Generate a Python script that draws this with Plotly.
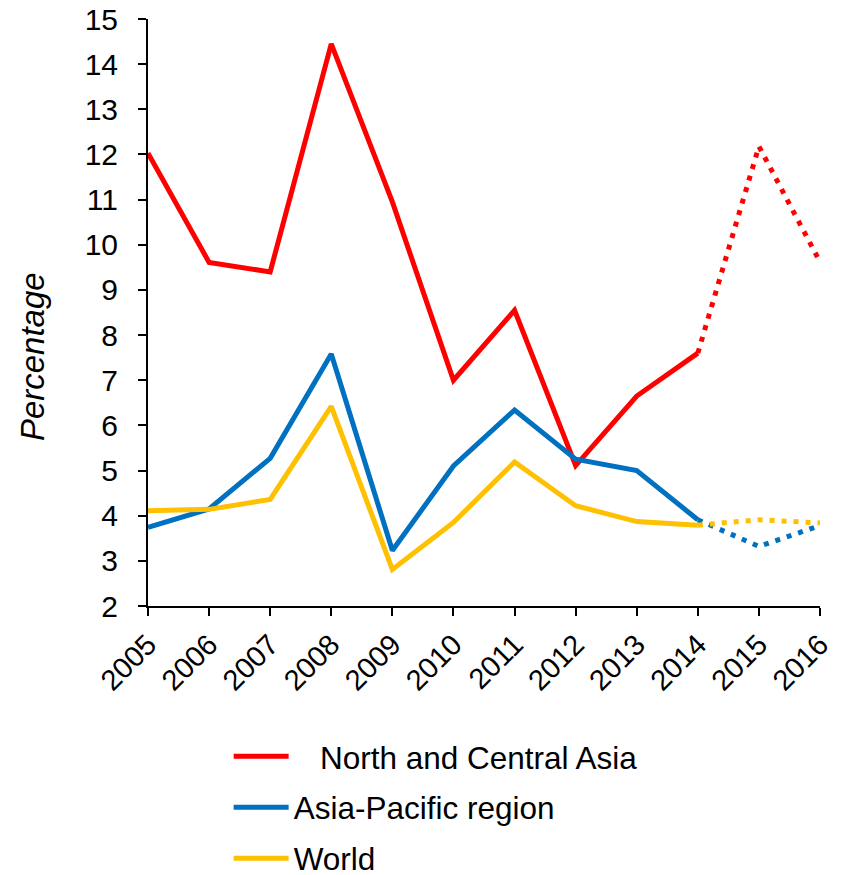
import plotly.graph_objects as go

years = [2005, 2006, 2007, 2008, 2009, 2010, 2011, 2012, 2013, 2014, 2015, 2016]
north_central_asia = [12.03, 9.61, 9.40, 14.45, 10.95, 7.00, 8.55, 5.11, 6.65, 7.60, 12.18, 9.62]
asia_pacific = [3.74, 4.15, 5.27, 7.58, 3.23, 5.10, 6.34, 5.25, 5.00, 3.91, 3.32, 3.78]
world = [4.11, 4.14, 4.36, 6.42, 2.81, 3.85, 5.19, 4.22, 3.87, 3.79, 3.91, 3.84]
n_actual = 10  # 2005-2014 actual, 2014-2016 projected (dotted)

series = [
    ("\u00a0\u00a0\u00a0North and Central Asia", north_central_asia, "#FF0000"),
    ("Asia-Pacific region", asia_pacific, "#0070C0"),
    ("World", world, "#FFC000"),
]

fig = go.Figure()
for i, (name, vals, color) in enumerate(series):
    fig.add_trace(go.Scatter(
        x=years[:n_actual], y=vals[:n_actual], mode="lines", name=name,
        line=dict(color=color, width=5), legendgroup=f"g{i}", showlegend=True))
    fig.add_trace(go.Scatter(
        x=years[n_actual - 1:], y=vals[n_actual - 1:], mode="lines", name=name,
        line=dict(color=color, width=5, dash="5px,7px"), legendgroup=f"g{i}", showlegend=False))

font_family = "Liberation Sans, Arial, sans-serif"
fig.update_layout(
    width=833, height=867,
    margin=dict(l=140, r=21, t=11, b=269, autoexpand=False),
    paper_bgcolor="white", plot_bgcolor="white",
    font=dict(family=font_family, size=30, color="black"),
    xaxis=dict(range=[2005, 2016], tickmode="array", tickvals=years,
               ticktext=[str(y) for y in years], tickangle=-45,
               showline=True, linecolor="black", linewidth=2,
               ticks="outside", ticklen=8, tickwidth=2, tickcolor="black",
               ticklabeloverflow="allow",
               showgrid=False, zeroline=False, tickfont=dict(size=29)),
    yaxis=dict(range=[2, 15], tickmode="linear", tick0=2, dtick=1,
               showline=True, linecolor="black", linewidth=2,
               ticks="outside", ticklen=8, tickwidth=2, tickcolor="black",
               ticklabelstandoff=14, ticklabeloverflow="allow",
               showgrid=False, zeroline=False, tickfont=dict(size=30)),
    legend=dict(orientation="v", x=0.12, y=-0.21, xanchor="left", yanchor="top",
                font=dict(size=31.5), traceorder="grouped", tracegroupgap=7,
                itemwidth=55, bgcolor="rgba(0,0,0,0)"),
    showlegend=True,
    annotations=[dict(text="<i>Percentage</i>", x=-0.1726, y=0.424, xref="paper", yref="paper",
                      textangle=-90, showarrow=False, font=dict(size=33),
                      xanchor="center", yanchor="middle")],
)

fig.write_html("out.html")
